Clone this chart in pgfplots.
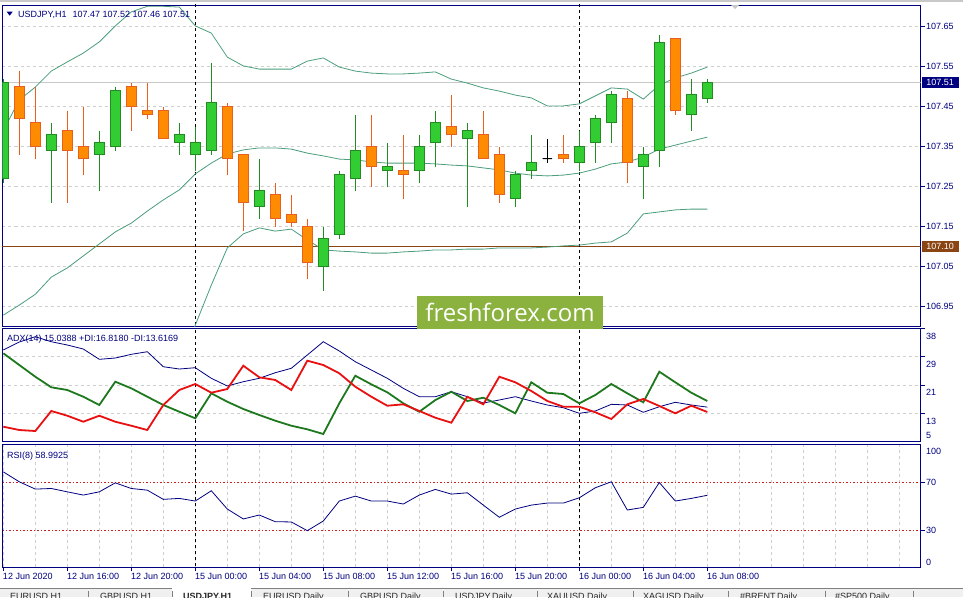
\documentclass[border=0pt]{standalone}
\usepackage{fontspec}
\setmainfont{Liberation Sans}
\newfontfamily\logofont{Open Sans}
\usepackage{pgfplots}
\pgfplotsset{compat=1.18}
\usepackage{pgfplotstable}
\usepgfplotslibrary{statistics}

\definecolor{mtnavy}{HTML}{000080}
\definecolor{gridcol}{HTML}{CFCFCF}
\definecolor{bullfill}{HTML}{32CD32}
\definecolor{bullline}{HTML}{228B22}
\definecolor{bearfill}{HTML}{FF8C00}
\definecolor{bearline}{HTML}{E8601C}
\definecolor{bbcol}{HTML}{4A9E7C}
\definecolor{levelbrown}{HTML}{8B4513}
\definecolor{bidgray}{HTML}{C8C8C8}
\definecolor{pdicol}{HTML}{1E781E}
\definecolor{mdicol}{HTML}{E81010}
\definecolor{rsired}{HTML}{CC2020}
\definecolor{logogreen}{HTML}{8BB23E}
\definecolor{tabbg}{HTML}{F0F0F0}
\definecolor{tabline}{HTML}{808080}

\newcommand\mtfont{\fontsize{9}{10}\selectfont}

% bar index, open, high, low, close
\newcommand{\candle}[5]{%
  \pgfmathsetmacro\cLo{min(#2,#5)}%
  \pgfmathsetmacro\cHi{max(#2,#5)}%
  \ifdim #5pt>#2pt \def\cSty{bull}\else\ifdim #5pt<#2pt \def\cSty{bear}\else\def\cSty{doji}\fi\fi
  \edef\cmd{\noexpand\addplot[\cSty, boxplot prepared={draw position=#1,
    lower whisker=#4, lower quartile=\cLo, median=\cLo,
    upper quartile=\cHi, upper whisker=#3, box extend=0.6, whisker extend=0}] coordinates {};}%
  \cmd
}

% Bollinger bands (20)
\pgfplotstableread{
i  up      mid     lo
0  107.390 106.929 nan
1  107.467 106.954 nan
2  107.499 106.981 nan
3  107.539 107.024 nan
4  107.562 107.047 nan
5  107.584 107.077 nan
6  107.612 107.107 nan
7  107.652 107.137 nan
8  107.687 107.159 nan
9  107.701 107.189 nan
10 107.701 107.217 106.732
11 107.699 107.242 106.785
12 107.652 107.282 106.904
13 107.634 107.309 107.004
14 107.574 107.332 107.097
15 107.552 107.342 107.132
16 107.544 107.347 107.147
17 107.544 107.347 107.139
18 107.544 107.344 107.144
19 107.564 107.334 107.117
20 107.572 107.327 107.092
21 107.549 107.319 107.089
22 107.539 107.317 107.087
23 107.534 107.312 107.084
24 107.532 107.309 107.084
25 107.532 107.309 107.087
26 107.534 107.309 107.089
27 107.537 107.307 107.092
28 107.519 107.304 107.092
29 107.509 107.302 107.094
30 107.497 107.297 107.094
31 107.489 107.292 107.097
32 107.479 107.284 107.097
33 107.472 107.279 107.097
34 107.452 107.277 107.099
35 107.452 107.279 107.102
36 107.457 107.284 107.104
37 107.477 107.294 107.109
38 107.497 107.307 107.112
39 107.494 107.312 107.134
40 107.469 107.324 107.182
41 107.504 107.344 107.187
42 107.522 107.354 107.192
43 107.534 107.364 107.194
44 107.549 107.374 107.194
}\bbands

% ADX(14), +DI, -DI
\pgfplotstableread{
i  adx   pdi   mdi
0  31.72 30.76 9.32
1  34.06 27.34 8.36
2  35.60 23.92 8.06
3  34.14 20.83 13.91
4  33.18 20.04 12.53
5  32.01 18.08 10.78
6  29.00 15.66 12.53
7  29.38 22.46 10.78
8  30.46 20.53 9.61
9  31.22 18.08 8.36
10 26.84 15.66 15.66
11 26.17 13.70 20.04
12 26.55 11.77 21.79
13 23.46 19.07 19.25
14 21.21 16.62 20.33
15 22.46 14.49 27.14
16 23.46 12.74 23.75
17 25.09 11.07 22.96
18 26.38 9.61  20.04
19 30.26 8.56  28.60
20 34.14 7.19  27.34
21 31.43 16.15 24.92
22 28.30 24.21 21.00
23 25.88 21.70 18.08
24 23.46 19.37 15.45
25 20.53 16.15 15.86
26 18.08 13.70 13.91
27 18.08 17.10 11.95
28 19.54 19.54 10.49
29 18.08 16.83 18.08
30 16.24 17.79 15.86
31 17.12 15.66 23.92
32 18.08 13.23 22.29
33 16.83 22.29 19.75
34 15.66 19.25 16.83
35 14.87 18.87 15.16
36 13.23 16.15 15.16
37 13.91 18.58 13.53
38 15.86 21.79 11.57
39 15.66 19.07 15.86
40 13.53 16.45 17.41
41 15.16 25.38 15.37
42 16.45 22.29 13.23
43 15.66 19.25 15.45
44 15.04 16.82 13.62
}\adxdata

% RSI(8)
\pgfplotstableread{
i  rsi
0  78.6
1  70.3
2  64.2
3  64.7
4  61.9
5  59.2
6  61.9
7  69.4
8  64.7
9  63.3
10 55.6
11 56.4
12 54.2
13 62.8
14 47.5
15 39.2
16 42.5
17 36.9
18 36.7
19 29.4
20 37.5
21 54.2
22 58.3
23 54.2
24 54.2
25 51.7
26 59.2
27 63.9
28 60.0
29 61.1
30 50.8
31 40.6
32 47.5
33 50.8
34 52.5
35 52.5
36 56.9
37 65.3
38 70.3
39 46.7
40 48.9
41 69.7
42 54.2
43 56.4
44 59.0
}\rsidata

\pgfplotsset{
  bull/.style={draw=bullline, fill=bullfill, line width=0.9pt},
  bear/.style={draw=bearline, fill=bearfill, line width=0.9pt},
  doji/.style={draw=black, fill=black, line width=0.9pt},
  daysep/.style={black, line width=0.8pt, dash pattern=on 3pt off 3pt},
  mt/.style={
    scale only axis, anchor=north west, width=918pt,
    xmin=-0.05, xmax=57.325,
    axis line style={draw=mtnavy, line width=0.9pt},
    xtick=\empty,
    minor xtick={0,2,...,56}, xminorgrids,
    minor x grid style={gridcol, dash pattern=on 3pt off 3pt, line width=0.8pt},
    minor tick length=0pt,
    major tick length=4pt, tick align=outside,
    ytick pos=right, yticklabel pos=right,
    tick style={draw=mtnavy, line width=0.8pt},
    major y grid style={gridcol, dash pattern=on 3pt off 3pt, line width=0.8pt},
    tick label style={font=\mtfont, text=mtnavy, inner sep=0pt,
      /pgf/number format/assume math mode=true},
    clip mode=individual,
  },
}

\begin{document}
\begin{tikzpicture}
\path[use as bounding box] (0pt,0pt) rectangle (963pt,-597pt);
\clip (0pt,0pt) rectangle (963pt,-597pt);
\fill[white] (0pt,0pt) rectangle (963pt,-597pt);
\draw[bidgray, line width=2pt] (0pt,-1pt) -- (963pt,-1pt);

% ---------- price window ----------
\begin{axis}[mt, at={(2.5pt,-5pt)}, height=321.5pt,
  ymin=106.9005, ymax=107.70425,
  ytick={106.95,107.05,107.15,107.25,107.35,107.45,107.55,107.65},
  ymajorgrids, scaled y ticks=false,
  boxplot/draw direction=y,
  yticklabel style={anchor=west, xshift=1.5pt,
    /pgf/number format/.cd, fixed, fixed zerofill, precision=2},
]
\addplot[bidgray, line width=0.9pt] coordinates {(-1,107.51) (58,107.51)};
\addplot[levelbrown, line width=0.9pt] coordinates {(-1,107.10) (58,107.10)};
\addplot[daysep] coordinates {(12,106.8) (12,107.8)};
\addplot[daysep] coordinates {(36,106.8) (36,107.8)};

\addplot[bbcol, line width=0.8pt] table[x=i, y=up] {\bbands};
\addplot[bbcol, line width=0.8pt] table[x=i, y=mid] {\bbands};
\addplot[bbcol, line width=0.8pt, unbounded coords=jump] table[x=i, y=lo] {\bbands};

\candle{0}{107.27}{107.52}{107.26}{107.51}
\candle{1}{107.50}{107.54}{107.33}{107.42}
\candle{2}{107.41}{107.50}{107.32}{107.35}
\candle{3}{107.34}{107.41}{107.21}{107.38}
\candle{4}{107.39}{107.44}{107.21}{107.34}
\candle{5}{107.35}{107.45}{107.28}{107.32}
\candle{6}{107.33}{107.39}{107.24}{107.36}
\candle{7}{107.35}{107.50}{107.34}{107.49}
\candle{8}{107.50}{107.51}{107.39}{107.45}
\candle{9}{107.44}{107.51}{107.42}{107.43}
\candle{10}{107.44}{107.45}{107.37}{107.37}
\candle{11}{107.36}{107.41}{107.33}{107.38}
\candle{12}{107.33}{107.40}{107.29}{107.36}
\candle{13}{107.34}{107.56}{107.33}{107.46}
\candle{14}{107.45}{107.46}{107.28}{107.32}
\candle{15}{107.33}{107.33}{107.14}{107.21}
\candle{16}{107.20}{107.32}{107.17}{107.24}
\candle{17}{107.23}{107.26}{107.15}{107.17}
\candle{18}{107.18}{107.23}{107.15}{107.16}
\candle{19}{107.15}{107.17}{107.02}{107.06}
\candle{20}{107.05}{107.15}{106.99}{107.12}
\candle{21}{107.13}{107.29}{107.12}{107.28}
\candle{22}{107.27}{107.43}{107.24}{107.34}
\candle{23}{107.35}{107.43}{107.25}{107.30}
\candle{24}{107.29}{107.36}{107.25}{107.30}
\candle{25}{107.29}{107.38}{107.22}{107.28}
\candle{26}{107.29}{107.38}{107.26}{107.35}
\candle{27}{107.36}{107.44}{107.30}{107.41}
\candle{28}{107.40}{107.48}{107.35}{107.38}
\candle{29}{107.37}{107.41}{107.20}{107.39}
\candle{30}{107.38}{107.44}{107.32}{107.32}
\candle{31}{107.33}{107.35}{107.21}{107.23}
\candle{32}{107.22}{107.29}{107.20}{107.28}
\candle{33}{107.29}{107.38}{107.27}{107.31}
\candle{34}{107.32}{107.37}{107.31}{107.32}
\candle{35}{107.33}{107.38}{107.31}{107.32}
\candle{36}{107.31}{107.39}{107.29}{107.35}
\candle{37}{107.36}{107.43}{107.31}{107.42}
\candle{38}{107.41}{107.49}{107.36}{107.48}
\candle{39}{107.47}{107.49}{107.26}{107.31}
\candle{40}{107.30}{107.35}{107.22}{107.33}
\candle{41}{107.34}{107.63}{107.30}{107.61}
\candle{42}{107.62}{107.62}{107.43}{107.44}
\candle{43}{107.43}{107.52}{107.39}{107.48}
\candle{44}{107.47}{107.52}{107.46}{107.51}

\node[fill=mtnavy, text=white, font=\mtfont, inner sep=0pt, minimum width=37pt,
  minimum height=11pt, anchor=west, xshift=1pt]
  at ({rel axis cs:1,0}|-{axis cs:0,107.51}) {107.51};
\node[fill=levelbrown, text=white, font=\mtfont, inner sep=0pt, minimum width=37pt,
  minimum height=11pt, anchor=west, xshift=1pt]
  at ({rel axis cs:1,0}|-{axis cs:0,107.10}) {107.10};
\end{axis}

% ---------- ADX window ----------
\begin{axis}[mt, at={(2.5pt,-328.5pt)}, height=113pt,
  ymin=5, ymax=38,
  ytick={38,29.75,21.5,13.25}, yticklabels={38,29,21,13},
  ymajorgrids,
  yticklabel style={anchor=north west, xshift=1.5pt, yshift=-4.5pt},
]
\addplot[daysep] coordinates {(12,0) (12,40)};
\addplot[daysep] coordinates {(36,0) (36,40)};
\addplot[mtnavy, line width=0.8pt] table[x=i, y=adx] {\adxdata};
\addplot[pdicol, line width=1.8pt] table[x=i, y=pdi] {\adxdata};
\addplot[mdicol, line width=1.8pt] table[x=i, y=mdi] {\adxdata};
\node[anchor=south west, inner sep=0pt, font=\mtfont, text=mtnavy, xshift=5.5pt, yshift=3pt]
  at (rel axis cs:1,0) {5};
\end{axis}

% ---------- RSI window ----------
\begin{axis}[mt, at={(2.5pt,-444.5pt)}, height=122.5pt,
  ymin=-1, ymax=101.5,
  ytick={30,70}, ymajorgrids,
  major y grid style={rsired, dash pattern=on 1.5pt off 2pt, line width=0.9pt},
  yticklabel style={anchor=west, xshift=1.5pt},
  xtick={0,4,...,44}, xtick pos=left,
  xticklabels={12 Jun 2020,12 Jun 16:00,12 Jun 20:00,15 Jun 00:00,15 Jun 04:00,
    15 Jun 08:00,15 Jun 12:00,15 Jun 16:00,15 Jun 20:00,16 Jun 00:00,16 Jun 04:00,16 Jun 08:00},
  xticklabel style={anchor=north west, xshift=-0.5pt, yshift=-2pt},
]
\addplot[daysep] coordinates {(12,-5) (12,105)};
\addplot[daysep] coordinates {(36,-5) (36,105)};
\addplot[mtnavy, line width=0.8pt] table[x=i, y=rsi] {\rsidata};
\node[anchor=north west, inner sep=0pt, font=\mtfont, text=mtnavy, xshift=5.5pt, yshift=-3.5pt]
  at (rel axis cs:1,1) {100};
\node[anchor=south west, inner sep=0pt, font=\mtfont, text=mtnavy, xshift=5.5pt, yshift=1.5pt]
  at (rel axis cs:1,0) {0};
\end{axis}

% window captions
\fill[mtnavy] (6.7pt,-11.7pt) -- (12.7pt,-11.7pt) -- (9.7pt,-15.7pt) -- cycle;
\node[anchor=base west, inner sep=0pt, font=\mtfont, text=mtnavy] at (18pt,-17pt)
  {USDJPY,H1\hspace{6pt}107.47 107.52 107.46 107.51};
\node[anchor=base west, inner sep=0pt, font=\mtfont, text=mtnavy] at (7pt,-341.5pt)
  {ADX(14) 15.0388 +DI:16.8180 -DI:13.6169};
\node[anchor=base west, inner sep=0pt, font=\mtfont, text=mtnavy] at (7pt,-458pt)
  {RSI(8) 58.9925};
\fill[bidgray] (731pt,-5pt) -- (739pt,-5pt) -- (735pt,-9pt) -- cycle;

% watermark
\node[fill=logogreen, text=white, font=\logofont\fontsize{24}{24}\selectfont,
  minimum width=186pt, minimum height=33pt, inner sep=0pt] at (510pt,-312.5pt) {freshforex.com};

% tabs
\fill[tabbg] (0pt,-588.5pt) rectangle (963pt,-597pt);
\draw[tabline, line width=0.8pt] (0pt,-588.5pt) -- (963pt,-588.5pt);
\fill[white] (172pt,-588pt) rectangle (251pt,-597pt);
\foreach \sx in {88,172,251,348,443,537,633,728,825,913}
  \draw[tabline, line width=0.7pt] (\sx pt,-591pt) -- (\sx pt,-597pt);
\begin{scope}[every node/.style={anchor=base west, inner sep=0pt, font=\mtfont, text=black!85}]
\node at (10pt,-599.2pt) {EURUSD,H1};
\node at (100pt,-599.2pt) {GBPUSD,H1};
\node[font=\mtfont\bfseries] at (183pt,-599.2pt) {USDJPY,H1};
\node at (263pt,-599.2pt) {EURUSD,Daily};
\node at (360pt,-599.2pt) {GBPUSD,Daily};
\node at (455pt,-599.2pt) {USDJPY,Daily};
\node at (547pt,-599.2pt) {XAUUSD,Daily};
\node at (643pt,-599.2pt) {XAGUSD,Daily};
\node at (740pt,-599.2pt) {\#BRENT,Daily};
\node at (835pt,-599.2pt) {\#SP500,Daily};
\end{scope}
\end{tikzpicture}
\end{document}
